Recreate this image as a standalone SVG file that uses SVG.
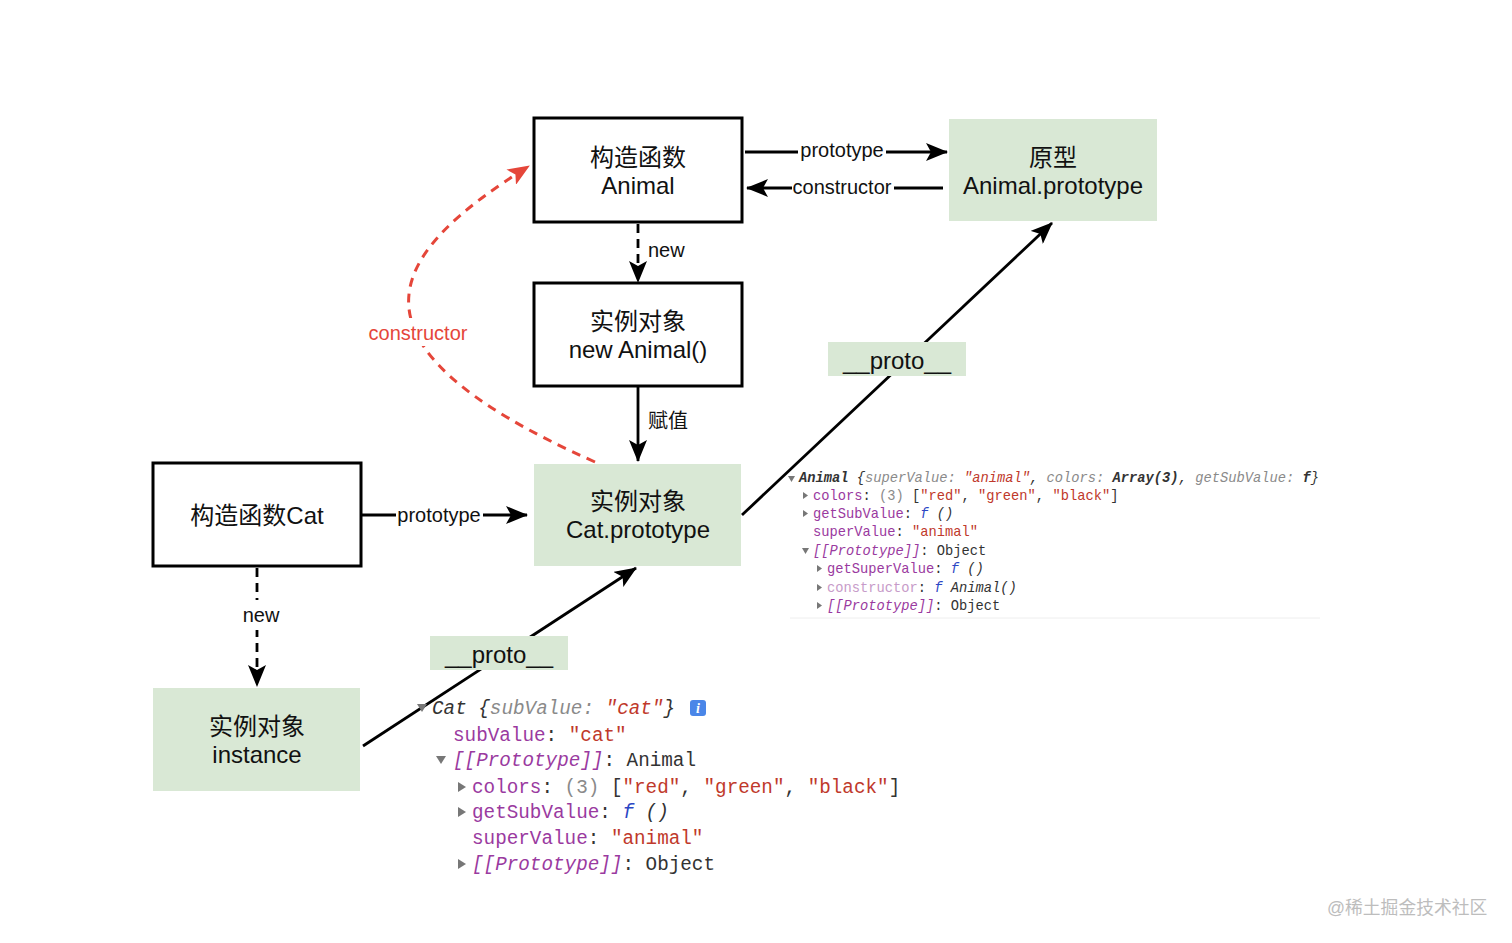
<svg xmlns="http://www.w3.org/2000/svg" width="1512" height="943" viewBox="0 0 1512 943">
<style>
.box{fill:#fff;stroke:#000;stroke-width:3}
.green{fill:#d9e8d5;stroke:none}
.t{font-family:"Liberation Sans","Noto Sans CJK SC",Arial,sans-serif;font-size:24px;fill:#111;text-anchor:middle}
.lbl{font-family:"Liberation Sans","Noto Sans CJK SC",Arial,sans-serif;font-size:20px;fill:#111}
.ln{stroke:#000;stroke-width:2.8;fill:none}
.dash{stroke-dasharray:9 6}
.mono{font-family:"Liberation Mono","DejaVu Sans Mono",monospace;fill:#333}
.pu{fill:#9a3aa0}
.rd{fill:#c0392b}
.gy{fill:#8a8a8a}
.bl{fill:#2b46c4;font-style:italic}
.it{font-style:italic}
.lp{fill:#c79bc9}
.tri{fill:#777}
</style>
<defs>
<marker id="ah" viewBox="0 0 22 18" refX="21" refY="9" markerWidth="22" markerHeight="18" markerUnits="userSpaceOnUse" orient="auto">
<path d="M0,0 L22,9 L0,18 L5,9 z" fill="#000"/>
</marker>
<marker id="ahr" viewBox="0 0 22 18" refX="21" refY="9" markerWidth="22" markerHeight="18" markerUnits="userSpaceOnUse" orient="auto">
<path d="M0,0 L22,9 L0,18 L5,9 z" fill="#e5463a"/>
</marker>
</defs>
<rect width="1512" height="943" fill="#fff"/>

<g id="connectors">
  <line class="ln" x1="745" y1="152" x2="947" y2="152" marker-end="url(#ah)"/>
  <line class="ln" x1="943" y1="188" x2="747" y2="188" marker-end="url(#ah)"/>
  <line class="ln dash" x1="638" y1="224" x2="638" y2="282" marker-end="url(#ah)"/>
  <line class="ln" x1="638" y1="387" x2="638" y2="461" marker-end="url(#ah)"/>
  <line class="ln" x1="362" y1="515" x2="527" y2="515" marker-end="url(#ah)"/>
  <line class="ln dash" x1="257" y1="568" x2="257" y2="686" marker-end="url(#ah)"/>
  <line class="ln" x1="363" y1="746" x2="636" y2="568" marker-end="url(#ah)"/>
  <line class="ln" x1="742" y1="515" x2="1052" y2="223" marker-end="url(#ah)"/>
  <path d="M595,462 C320,340 395,250 529,166" fill="none" stroke="#e5463a" stroke-width="3" stroke-dasharray="9 7" marker-end="url(#ahr)"/>
  <rect x="798" y="138" width="88" height="26" fill="#fff"/>
  <text class="lbl" x="842" y="157" text-anchor="middle">prototype</text>
  <rect x="792" y="175" width="102" height="26" fill="#fff"/>
  <text class="lbl" x="842" y="194" text-anchor="middle">constructor</text>
  <text class="lbl" x="648" y="257">new</text>
  <text class="lbl" x="648" y="428">赋值</text>
  <rect x="396" y="502" width="87" height="26" fill="#fff"/>
  <text class="lbl" x="439" y="522" text-anchor="middle">prototype</text>
  <rect x="240" y="600" width="42" height="30" fill="#fff"/>
  <text class="lbl" x="261" y="622" text-anchor="middle">new</text>
  <rect x="364" y="318" width="108" height="28" fill="#fff"/>
  <text class="lbl" x="418" y="340" text-anchor="middle" style="fill:#e5463a">constructor</text>
  <rect class="green" x="828" y="342" width="138" height="34"/>
  <text class="t" x="897" y="369">__proto__</text>
  <rect class="green" x="430" y="636" width="138" height="34"/>
  <text class="t" x="499" y="663">__proto__</text>
</g>

<g id="animal">
  <rect class="box" x="534" y="118" width="208" height="104"/>
  <text class="t" x="638" y="166">构造函数</text>
  <text class="t" x="638" y="194">Animal</text>
</g>
<g id="animal-prototype">
  <rect class="green" x="949" y="119" width="208" height="102"/>
  <text class="t" x="1053" y="166">原型</text>
  <text class="t" x="1053" y="194">Animal.prototype</text>
</g>
<g id="new-animal">
  <rect class="box" x="534" y="283" width="208" height="103"/>
  <text class="t" x="638" y="330">实例对象</text>
  <text class="t" x="638" y="358">new Animal()</text>
</g>
<g id="cat-prototype">
  <rect class="green" x="534" y="464" width="207" height="102"/>
  <text class="t" x="638" y="510">实例对象</text>
  <text class="t" x="638" y="538">Cat.prototype</text>
</g>
<g id="cat">
  <rect class="box" x="153" y="463" width="208" height="103"/>
  <text class="t" x="257" y="524">构造函数Cat</text>
</g>
<g id="instance">
  <rect class="green" x="153" y="688" width="207" height="103"/>
  <text class="t" x="257" y="735">实例对象</text>
  <text class="t" x="257" y="763">instance</text>
</g>

<g id="console-animal" style="font-size:13.75px">
  <polygon class="tri" points="788,476 795,476 791.5,482"/>
  <text class="mono it" x="799" y="482"><tspan style="font-weight:bold">Animal</tspan> {<tspan class="gy">superValue: </tspan><tspan class="rd">"animal"</tspan>, <tspan class="gy">colors: </tspan><tspan style="font-weight:bold">Array(3)</tspan>, <tspan class="gy">getSubValue: </tspan><tspan style="font-weight:bold">f</tspan>}</text>
  <polygon class="tri" points="803,492 808,495.5 803,499"/>
  <text class="mono" x="813" y="500"><tspan class="pu">colors</tspan>: <tspan class="gy">(3)</tspan> [<tspan class="rd">"red"</tspan>, <tspan class="rd">"green"</tspan>, <tspan class="rd">"black"</tspan>]</text>
  <polygon class="tri" points="803,510 808,513.5 803,517"/>
  <text class="mono" x="813" y="518"><tspan class="pu">getSubValue</tspan>: <tspan class="bl">f</tspan><tspan class="it"> ()</tspan></text>
  <text class="mono" x="813" y="536"><tspan class="pu">superValue</tspan>: <tspan class="rd">"animal"</tspan></text>
  <polygon class="tri" points="802,548 809,548 805.5,554"/>
  <text class="mono" x="813" y="555"><tspan class="pu it">[[Prototype]]</tspan>: Object</text>
  <polygon class="tri" points="817,565 822,568.5 817,572"/>
  <text class="mono" x="827" y="573"><tspan class="pu">getSuperValue</tspan>: <tspan class="bl">f</tspan><tspan class="it"> ()</tspan></text>
  <polygon class="tri" points="817,584 822,587.5 817,591"/>
  <text class="mono" x="827" y="592"><tspan class="lp">constructor</tspan>: <tspan class="bl">f</tspan><tspan class="it"> Animal()</tspan></text>
  <polygon class="tri" points="817,602 822,605.5 817,609"/>
  <text class="mono" x="827" y="610"><tspan class="pu it">[[Prototype]]</tspan>: Object</text>
  <line x1="790" y1="618" x2="1320" y2="618" stroke="#eeeeee" stroke-width="1"/>
</g>

<g id="console-cat" style="font-size:19.3px">
  <polygon class="tri" points="417,704 427,704 422,712"/>
  <text class="mono it" x="432" y="714">Cat {<tspan class="gy">subValue: </tspan><tspan class="rd">"cat"</tspan>}</text>
  <rect x="690" y="700" width="16" height="16" rx="3" fill="#4a86e8"/>
  <text x="698" y="713" text-anchor="middle" style="font-family:'Liberation Serif',serif;font-size:14px;font-weight:bold;font-style:italic;fill:#fff">i</text>
  <text class="mono" x="453" y="741"><tspan class="pu">subValue</tspan>: <tspan class="rd">"cat"</tspan></text>
  <polygon class="tri" points="436,756 446,756 441,764"/>
  <text class="mono" x="453" y="766"><tspan class="pu it">[[Prototype]]</tspan>: Animal</text>
  <polygon class="tri" points="458,782 466,787 458,792"/>
  <text class="mono" x="472" y="793"><tspan class="pu">colors</tspan>: <tspan class="gy">(3)</tspan> [<tspan class="rd">"red"</tspan>, <tspan class="rd">"green"</tspan>, <tspan class="rd">"black"</tspan>]</text>
  <polygon class="tri" points="458,807 466,812 458,817"/>
  <text class="mono" x="472" y="818"><tspan class="pu">getSubValue</tspan>: <tspan class="bl">f</tspan><tspan class="it"> ()</tspan></text>
  <text class="mono" x="472" y="844"><tspan class="pu">superValue</tspan>: <tspan class="rd">"animal"</tspan></text>
  <polygon class="tri" points="458,859 466,864 458,869"/>
  <text class="mono" x="472" y="870"><tspan class="pu it">[[Prototype]]</tspan>: Object</text>
</g>

<text x="1327" y="914" style="font-family:'Liberation Sans','Noto Sans CJK SC',sans-serif;font-size:17.8px;fill:#bdbdbd">@稀土掘金技术社区</text>
</svg>
